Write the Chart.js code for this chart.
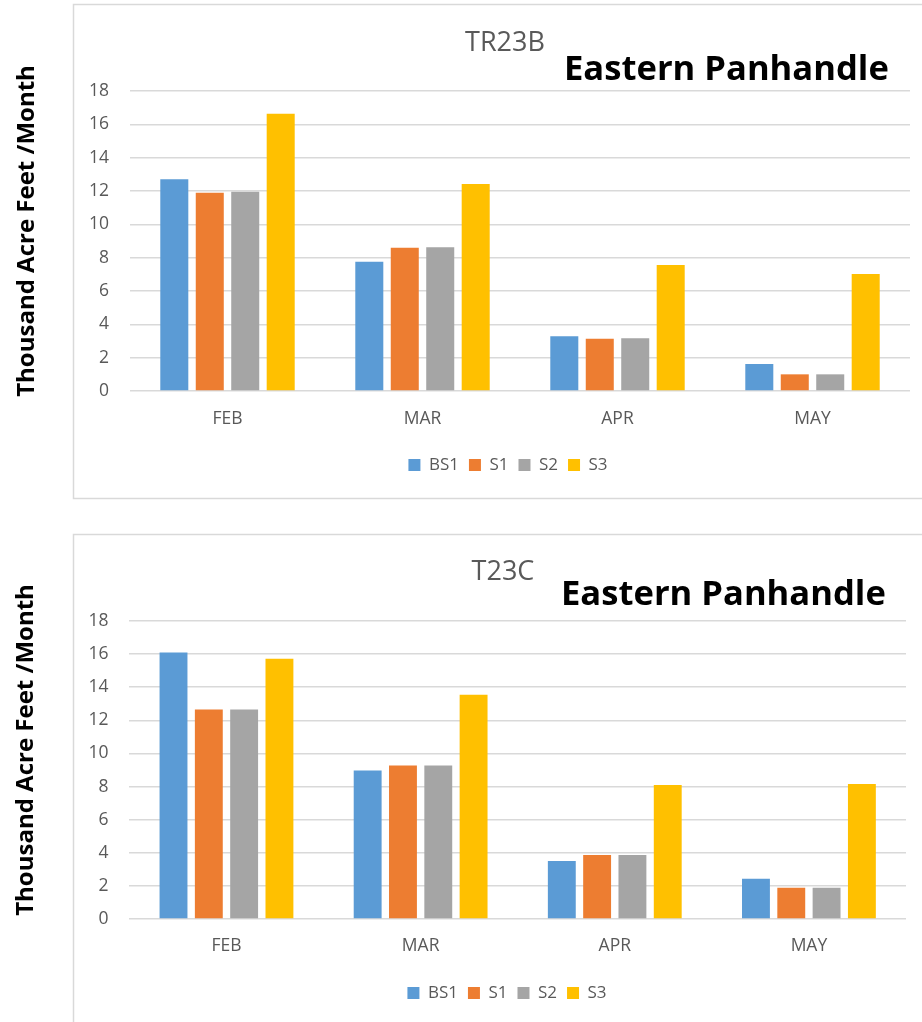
<!DOCTYPE html>
<html>
<head>
<meta charset="utf-8">
<script src="https://cdn.jsdelivr.net/npm/chart.js@4/dist/chart.umd.min.js"></script>
<style>
  html, body { margin: 0; padding: 0; background: #fff; overflow: hidden; width: 922px; height: 1022px; }
  .panel { position: absolute; left: 0; width: 944px; }
  #p1 { top: 0; height: 515px; }
  #p2 { top: 515px; height: 507px; }
</style>
</head>
<body>
<div class="panel" id="p1"><canvas id="c1" width="944" height="515"></canvas></div>
<div class="panel" id="p2"><canvas id="c2" width="944" height="507"></canvas></div>
<script>
// Categories and series
const months = ['FEB', 'MAR', 'APR', 'MAY'];
const seriesNames = ['BS1', 'S1', 'S2', 'S3'];
const yMax = 18;
const yStep = 2;

// TR23B, thousand acre-feet per month
const tr23bBS1 = [12.70, 7.76, 3.28, 1.62];
const tr23bS1  = [11.90, 8.60, 3.14, 1.00];
const tr23bS2  = [11.95, 8.62, 3.16, 1.00];
const tr23bS3  = [16.64, 12.42, 7.56, 7.02];

// T23C, thousand acre-feet per month
const t23cBS1 = [16.09, 8.97, 3.50, 2.43];
const t23cS1  = [12.66, 9.27, 3.86, 1.89];
const t23cS2  = [12.66, 9.27, 3.86, 1.89];
const t23cS3  = [15.72, 13.54, 8.09, 8.15];

const seriesColors = ['#5B9BD5', '#ED7D31', '#A5A5A5', '#FFC000'];
const textGray = '#595959';
const gridGray = '#d9d9d9';
const baseFont = "'Open Sans', 'Noto Sans', sans-serif";
const yTitleText = 'Thousand Acre Feet /Month';
const regionText = 'Eastern Panhandle';

// Frame, rotated axis caption, region caption, and centring of title/legend
const framePlugin = {
  id: 'frame',
  afterLayout(chart, args, o) {
    if (chart.titleBlock) { chart.titleBlock.left += o.titleShift; chart.titleBlock.right += o.titleShift; }
    if (chart.legend) { chart.legend.left += o.legendShift; chart.legend.right += o.legendShift; }
  },
  beforeDraw(chart, args, o) {
    const ctx = chart.ctx;
    ctx.save();
    ctx.strokeStyle = gridGray;
    ctx.lineWidth = 1.5;
    ctx.strokeRect(o.boxLeft, o.boxTop, chart.width + 40 - o.boxLeft, o.boxHeight);
    ctx.restore();
  },
  afterDraw(chart, args, o) {
    const ctx = chart.ctx;
    ctx.save();
    ctx.translate(o.yTitleX, o.yTitleY);
    ctx.rotate(-Math.PI / 2);
    ctx.font = "bold " + o.yTitleSize + "px " + baseFont;
    ctx.fillStyle = '#000';
    ctx.textAlign = 'center';
    ctx.textBaseline = 'middle';
    ctx.fillText(yTitleText, 0, 0);
    ctx.restore();

    ctx.save();
    ctx.font = "bold " + o.regionSize + "px " + baseFont;
    ctx.fillStyle = '#000';
    ctx.textAlign = 'left';
    ctx.textBaseline = 'alphabetic';
    ctx.fillText(regionText, o.regionX, o.regionY);
    ctx.restore();
  }
};

function buildChart(canvasId, titleText, series, p) {
  const datasets = series.map((vals, i) => ({
    label: seriesNames[i],
    data: vals,
    backgroundColor: seriesColors[i],
    borderWidth: 0,
    categoryPercentage: 0.7275,
    barPercentage: 0.79
  }));
  return new Chart(document.getElementById(canvasId), {
    type: 'bar',
    data: { labels: months, datasets },
    options: {
      responsive: false,
      devicePixelRatio: 1,
      animation: false,
      layout: { padding: { left: 0, right: p.padRight, top: 0, bottom: p.padBottom } },
      scales: {
        x: {
          grid: { display: false, drawTicks: false },
          border: { display: false },
          ticks: { color: textGray, font: { family: baseFont, size: 17.5 }, padding: p.xTickPad, maxRotation: 0 },
          afterFit(scale) { scale.height = p.xHeight; }
        },
        y: {
          min: 0,
          max: yMax,
          ticks: { stepSize: yStep, color: textGray, font: { family: baseFont, size: 17.5 }, padding: 21 },
          grid: { color: gridGray, lineWidth: 1.5, drawTicks: false },
          border: { display: false },
          afterFit(scale) { scale.width = p.yWidth; }
        }
      },
      plugins: {
        title: {
          display: true,
          text: titleText,
          color: textGray,
          font: { family: baseFont, size: 27, weight: 'normal' },
          padding: { top: p.titleTop, bottom: p.titleBottom }
        },
        legend: {
          position: 'bottom',
          labels: {
            boxWidth: 12, boxHeight: 12, padding: 10,
            color: textGray, font: { family: baseFont, size: 17 }
          }
        },
        tooltip: { enabled: false },
        frame: p.frame
      }
    },
    plugins: [framePlugin]
  });
}

buildChart('c1', 'TR23B', [tr23bBS1, tr23bS1, tr23bS2, tr23bS3], {
  padRight: 34, padBottom: 31.5, xHeight: 55.5, xTickPad: 17.6, yWidth: 130,
  titleTop: 27.3, titleBottom: 31.3,
  frame: { titleShift: 50, legendShift: 53, boxLeft: 73.5, boxTop: 4.5, boxHeight: 494,
           yTitleX: 27.5, yTitleY: 231, yTitleSize: 24, regionX: 564, regionY: 80, regionSize: 34.6 }
});

buildChart('c2', 'T23C', [t23cBS1, t23cS1, t23cS2, t23cS3], {
  padRight: 38, padBottom: 10.5, xHeight: 55.5, xTickPad: 16.1, yWidth: 129.4,
  titleTop: 41.3, titleBottom: 32.3,
  frame: { titleShift: 50, legendShift: 54, boxLeft: 73.5, boxTop: 19.5, boxHeight: 600,
           yTitleX: 26, yTitleY: 235, yTitleSize: 24, regionX: 561, regionY: 90, regionSize: 34.6 }
});
</script>
</body>
</html>
